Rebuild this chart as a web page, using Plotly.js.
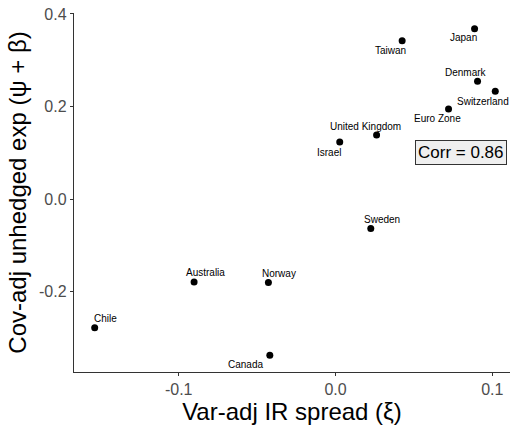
<!DOCTYPE html>
<html>
<head>
<meta charset="utf-8">
<script src="https://cdn.plot.ly/plotly-3.0.1.min.js"></script>
<style>html,body{margin:0;padding:0;background:#fff;}</style>
</head>
<body>
<div id="chart" style="width:513px;height:428px;"></div>
<script>
var countries = ["Chile","Australia","Norway","Canada","Sweden","Israel","United Kingdom","Euro Zone","Switzerland","Denmark","Taiwan","Japan"];
var irSpread = [-0.1536,-0.0902,-0.0428,-0.0419,0.0225,0.0027,0.0262,0.0721,0.1019,0.0906,0.0425,0.0887];
var unhedgedExp = [-0.2778,-0.1790,-0.1805,-0.3375,-0.0636,0.1232,0.1384,0.1946,0.2327,0.2543,0.3423,0.3682];
var corrText = "Corr = 0.86";

// label offsets in pixels (dx right, dy up) relative to each point
var labelDx = [11,11,11,-24,11,-11,-11,-11,-12,-12,-12,-11];
var labelDy = [9,9,9,-9,9,-10,9,-9,-10,9,-10,-9];

var font = "Liberation Sans, Arial, Helvetica, sans-serif";

var annotations = countries.map(function(c,i){
  return {x: irSpread[i], y: unhedgedExp[i], xref:"x", yref:"y", text:c, showarrow:false,
          xshift: labelDx[i], yshift: labelDy[i], font:{family:font, size:10, color:"#000"}};
});
annotations.push({x:0.08, y:0.1, xref:"x", yref:"y", text:corrText, showarrow:false,
  font:{family:font, size:17, color:"#000"}, bordercolor:"#333", borderwidth:1, borderpad:2, bgcolor:"#efefef"});

var trace = {x: irSpread, y: unhedgedExp, mode:"markers", type:"scatter",
  marker:{color:"#000", size:7}, hoverinfo:"none"};

var layout = {
  width:513, height:428,
  margin:{l:74, r:3, t:13, b:56},
  paper_bgcolor:"#fff", plot_bgcolor:"#fff",
  showlegend:false,
  xaxis:{range:[-0.1668,0.1113], tickvals:[-0.1,0,0.1], ticktext:["-0.1","0.0","0.1"],
    showgrid:false, zeroline:false, showline:true, linecolor:"#333", linewidth:1.2,
    ticks:"outside", ticklen:3, tickcolor:"#333", tickwidth:1,
    tickfont:{family:font, size:16, color:"#4d4d4d"},
    title:{text:"Var-adj IR spread (ξ)", font:{family:font, size:24, color:"#000"}, standoff:0}},
  yaxis:{range:[-0.3736,0.402], tickvals:[-0.2,0,0.2,0.4], ticktext:["-0.2","0.0","0.2","0.4"],
    showgrid:false, zeroline:false, showline:true, linecolor:"#333", linewidth:1.2,
    ticks:"outside", ticklen:3, tickcolor:"#333", tickwidth:1,
    tickfont:{family:font, size:16, color:"#4d4d4d"},
    title:{text:"Cov-adj unhedged exp (ψ + β)", font:{family:font, size:24, color:"#000"}, standoff:5}},
  annotations: annotations
};

Plotly.newPlot("chart", [trace], layout, {staticPlot:true, displayModeBar:false});
</script>
</body>
</html>
